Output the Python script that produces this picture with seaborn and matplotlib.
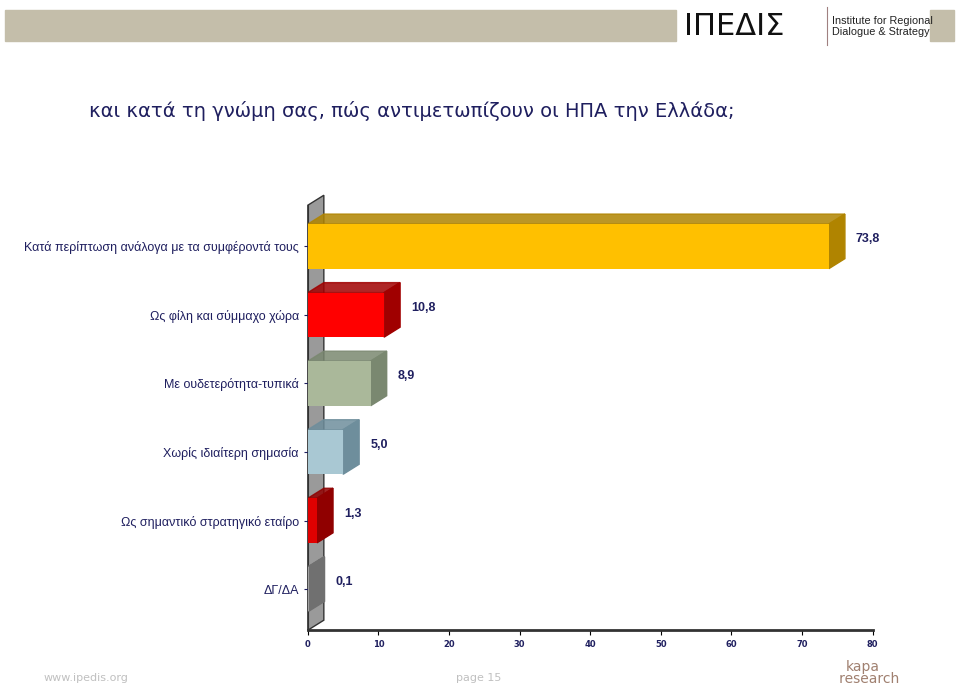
import matplotlib
matplotlib.use("Agg")
import matplotlib.pyplot as plt
import matplotlib.transforms as mt
from matplotlib.patches import Polygon, Rectangle
import seaborn as sns
import pandas as pd

categories = ["Κατά περίπτωση ανάλογα με τα συμφέροντά τους", "Ως φίλη και σύμμαχο χώρα",
              "Με ουδετερότητα-τυπικά", "Χωρίς ιδιαίτερη σημασία",
              "Ως σημαντικό στρατηγικό εταίρο", "ΔΓ/ΔΑ"]
values = [73.8, 10.8, 8.9, 5.0, 1.3, 0.1]
labels = ["73,8", "10,8", "8,9", "5,0", "1,3", "0,1"]
front = ["#FFC000", "#FF0000", "#AAB89A", "#A9C8D3", "#E00000", "#A0A0A0"]
side = ["#B08400", "#A00000", "#7A8870", "#6E8E9C", "#900000", "#707070"]
xticks = [0, 10, 20, 30, 40, 50, 60, 70, 80]

df = pd.DataFrame({"cat": categories, "val": values})
fig = plt.figure(figsize=(9.59, 6.91), dpi=100)
fig.patches.append(Rectangle((0.005, 0.94), 0.70, 0.045, transform=fig.transFigure, color="#C4BEAA"))
fig.patches.append(Rectangle((0.970, 0.94), 0.025, 0.045, transform=fig.transFigure, color="#C4BEAA"))
fig.text(0.713, 0.962, "ΙΠΕΔΙΣ", fontsize=22, va="center", family="DejaVu Sans", color="#111111")
fig.lines.append(plt.Line2D([0.862, 0.862], [0.935, 0.99], transform=fig.transFigure, color="#A08080", lw=0.8))
fig.text(0.868, 0.962, "Institute for Regional\nDialogue & Strategy", fontsize=7.8, va="center",
         color="#222222", linespacing=1.1, family="Liberation Sans")
fig.text(0.093, 0.84, "και κατά τη γνώμη σας, πώς αντιμετωπίζουν οι ΗΠΑ την Ελλάδα;", fontsize=14, color="#1F1F5F", va="center")
fig.text(0.045, 0.015, "www.ipedis.org", fontsize=8, color="#C0C0C0")
fig.text(0.475, 0.015, "page 15", fontsize=8, color="#C0C0C0")
fig.text(0.90, 0.012, "kapa\n   research", fontsize=10, color="#A08070", ha="center", linespacing=0.8)

ax = fig.add_axes([0.321, 0.088, 0.589, 0.615])
sns.barplot(data=df, x="val", y="cat", hue="cat", palette=front, legend=False, ax=ax, width=0.65, saturation=1, zorder=3)
ax.set_xlim(0, 80)
ax.set_ylim(5.6, -0.6)
ox, oy = 16, 10  # pixel depth
h = 0.325
for i, (v, s) in enumerate(zip(values, side)):
    p0 = ax.transData.transform([(0, i - h), (v, i - h)])
    pts = [p0[0], p0[1], p0[1] + [ox, oy], p0[0] + [ox, oy]]
    ax.add_patch(Polygon(ax.transData.inverted().transform(pts), closed=True, color=s, alpha=0.85, zorder=2.9))
    p1 = ax.transData.transform([(v, i - h), (v, i + h)])
    pts = [p1[0], p1[1], p1[1] + [ox, oy], p1[0] + [ox, oy]]
    ax.add_patch(Polygon(ax.transData.inverted().transform(pts), closed=True, color=s, zorder=2.9))
    ax.text(v, i, labels[i], transform=ax.transData + mt.ScaledTranslation(0.27, 0.07, fig.dpi_scale_trans),
            fontsize=9, fontweight="bold", color="#1F1F5F", va="center", family="Liberation Sans")
a = ax.transData.transform([(0, 5.6), (0, -0.6)])
w = [a[0], a[1], a[1] + [ox, oy], a[0] + [ox, oy]]
ax.add_patch(Polygon(ax.transData.inverted().transform(w), closed=True, facecolor="#9A9A9A",
                     edgecolor="#333333", zorder=1, clip_on=False))
ax.set_xticks(xticks)
ax.set_xticklabels([str(t) for t in xticks], fontsize=6, fontweight="bold", color="#1F1F5F")
ax.tick_params(axis="y", labelsize=9, colors="#1F1F5F", length=3)
for t in ax.get_yticklabels():
    t.set_family("Liberation Sans")
ax.set_xlabel(""); ax.set_ylabel("")
for sp in ["top", "right"]:
    ax.spines[sp].set_visible(False)
ax.spines["bottom"].set_linewidth(2)
ax.spines["bottom"].set_color("#333333")
ax.spines["left"].set_color("#333333")
fig.savefig("out.png", dpi=100)
